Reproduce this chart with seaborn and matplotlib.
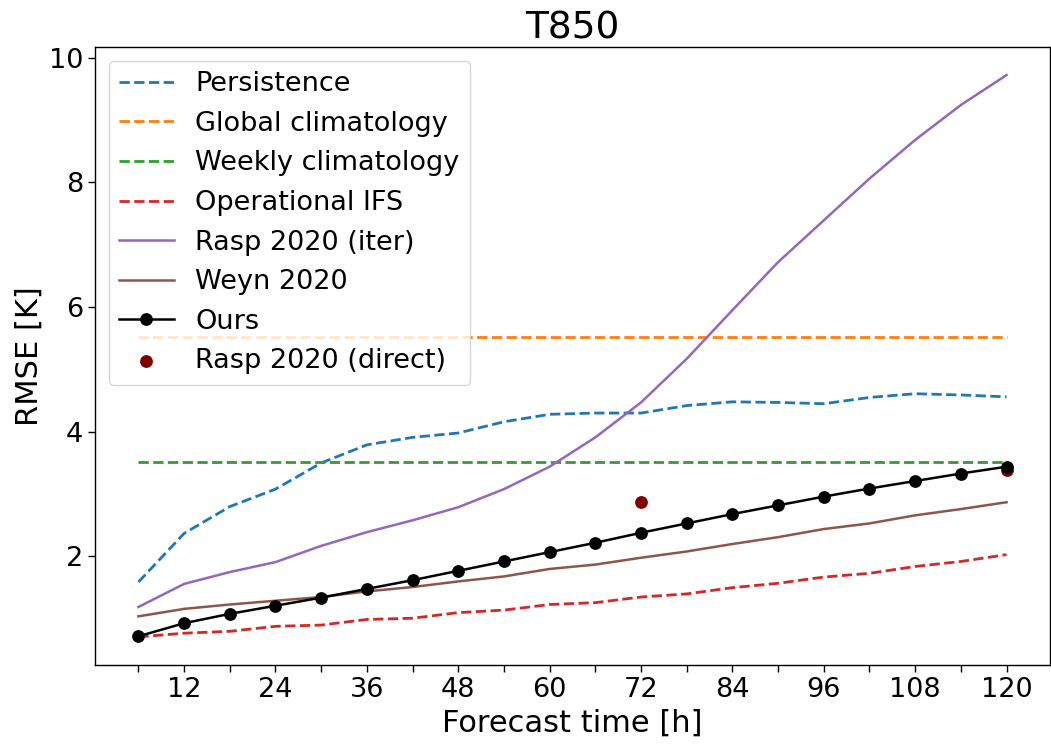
import matplotlib
matplotlib.use("Agg")
import matplotlib.pyplot as plt
import seaborn as sns
import numpy as np

# Forecast lead times [h]
lead_times = list(range(6, 121, 6))

# RMSE of T850 [K] per lead time
persistence = [1.59, 2.37, 2.80, 3.08, 3.50, 3.79, 3.91, 3.98, 4.16, 4.28,
               4.30, 4.30, 4.42, 4.48, 4.47, 4.45, 4.55, 4.61, 4.59, 4.56]
global_clim = 5.52
weekly_clim = 3.51
operational_ifs = [0.71, 0.77, 0.80, 0.88, 0.90, 0.99, 1.01, 1.10, 1.14, 1.23,
                   1.26, 1.35, 1.40, 1.50, 1.57, 1.67, 1.73, 1.84, 1.92, 2.03]
rasp_iter = [1.19, 1.56, 1.75, 1.91, 2.17, 2.39, 2.58, 2.79, 3.08, 3.44,
             3.91, 4.47, 5.17, 5.95, 6.72, 7.39, 8.06, 8.68, 9.24, 9.72]
weyn = [1.04, 1.16, 1.23, 1.29, 1.35, 1.44, 1.51, 1.60, 1.68, 1.80,
        1.87, 1.98, 2.08, 2.20, 2.31, 2.44, 2.53, 2.66, 2.76, 2.87]
ours = [0.72, 0.93, 1.08, 1.21, 1.34, 1.48, 1.62, 1.77, 1.92, 2.07,
        2.22, 2.38, 2.53, 2.68, 2.82, 2.96, 3.09, 3.21, 3.33, 3.44]
rasp_direct_times = [72, 120]
rasp_direct = [2.87, 3.38]

xtick_labels = [str(t) if t % 12 == 0 else "" for t in lead_times]

fig = plt.figure(figsize=(10.51, 7.45), dpi=100)
ax = fig.add_axes([0.0904, 0.1074, 0.9086, 0.8295])

lw_dash = 2.0
lw_solid = 1.8
sns.lineplot(x=lead_times, y=persistence, ax=ax, color="tab:blue",
             linestyle="--", linewidth=lw_dash, label="Persistence")
sns.lineplot(x=lead_times, y=[global_clim] * len(lead_times), ax=ax,
             color="tab:orange", linestyle="--", linewidth=lw_dash,
             label="Global climatology")
sns.lineplot(x=lead_times, y=[weekly_clim] * len(lead_times), ax=ax,
             color="tab:green", linestyle="--", linewidth=lw_dash,
             label="Weekly climatology")
sns.lineplot(x=lead_times, y=operational_ifs, ax=ax, color="tab:red",
             linestyle="--", linewidth=lw_dash, label="Operational IFS")
sns.lineplot(x=lead_times, y=rasp_iter, ax=ax, color="tab:purple",
             linewidth=lw_solid, label="Rasp 2020 (iter)")
sns.lineplot(x=lead_times, y=weyn, ax=ax, color="tab:brown",
             linewidth=lw_solid, label="Weyn 2020")
sns.lineplot(x=lead_times, y=ours, ax=ax, color="black", linewidth=lw_solid,
             marker="o", markersize=9.2, markeredgewidth=0, label="Ours")
sns.scatterplot(x=rasp_direct_times, y=rasp_direct, ax=ax, color="maroon",
                s=85, linewidth=0, label="Rasp 2020 (direct)")

ax.set_xticks(lead_times)
ax.set_xticklabels(xtick_labels)
ax.set_yticks([2, 4, 6, 8, 10])
ax.tick_params(axis="both", labelsize=19.5, length=5, width=1)
ax.set_xlim(0.3, 125.7)
ax.set_ylim(0.26, 10.17)
ax.set_xlabel("Forecast time [h]", fontsize=22)
ax.set_ylabel("RMSE [K]", fontsize=22)
ax.set_title("T850", fontsize=27)
for s in ax.spines.values():
    s.set_color("black")
    s.set_linewidth(1.0)

ax.legend(loc="upper left", fontsize=19.5, handlelength=2.0)

fig.savefig("out.png", dpi=100)
